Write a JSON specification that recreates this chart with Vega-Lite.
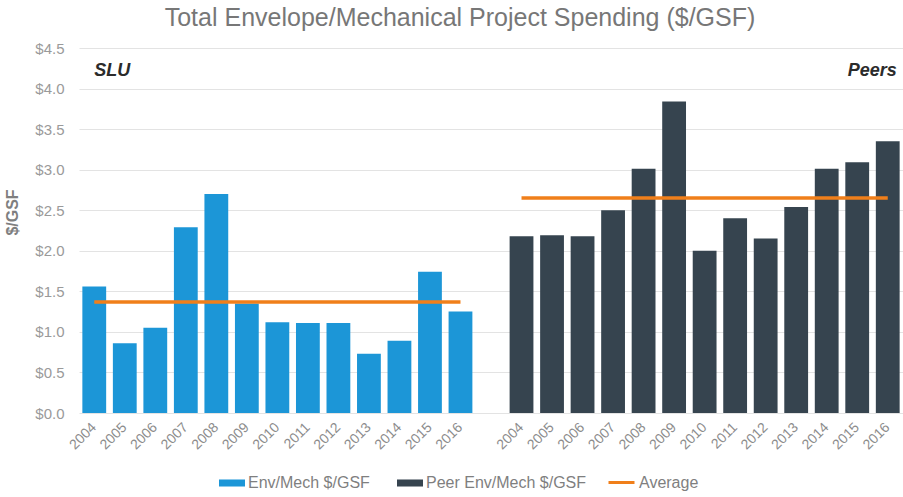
{
  "$schema": "https://vega.github.io/schema/vega-lite/v6.json",
  "width": 824,
  "height": 365,
  "autosize": {"type": "none"},
  "padding": {"left": 79, "top": 48, "right": 0, "bottom": 84},
  "background": "white",
  "config": {"view": {"stroke": null}, "font": "Liberation Sans"},
  "title": {
    "text": "Total Envelope/Mechanical Project Spending ($/GSF)",
    "fontSize": 25,
    "font": "Liberation Sans",
    "fontWeight": "normal",
    "color": "#777777",
    "anchor": "middle",
    "dx": -31,
    "offset": 10
  },
  "datasets": {
    "bars": [
      {"key": "SLU 2004", "series": "Env/Mech $/GSF", "value": 1.56},
      {"key": "SLU 2005", "series": "Env/Mech $/GSF", "value": 0.86},
      {"key": "SLU 2006", "series": "Env/Mech $/GSF", "value": 1.05},
      {"key": "SLU 2007", "series": "Env/Mech $/GSF", "value": 2.29},
      {"key": "SLU 2008", "series": "Env/Mech $/GSF", "value": 2.70},
      {"key": "SLU 2009", "series": "Env/Mech $/GSF", "value": 1.35},
      {"key": "SLU 2010", "series": "Env/Mech $/GSF", "value": 1.12},
      {"key": "SLU 2011", "series": "Env/Mech $/GSF", "value": 1.11},
      {"key": "SLU 2012", "series": "Env/Mech $/GSF", "value": 1.11},
      {"key": "SLU 2013", "series": "Env/Mech $/GSF", "value": 0.73},
      {"key": "SLU 2014", "series": "Env/Mech $/GSF", "value": 0.89},
      {"key": "SLU 2015", "series": "Env/Mech $/GSF", "value": 1.74},
      {"key": "SLU 2016", "series": "Env/Mech $/GSF", "value": 1.25},
      {"key": "Peers 2004", "series": "Peer Env/Mech $/GSF", "value": 2.18},
      {"key": "Peers 2005", "series": "Peer Env/Mech $/GSF", "value": 2.19},
      {"key": "Peers 2006", "series": "Peer Env/Mech $/GSF", "value": 2.18},
      {"key": "Peers 2007", "series": "Peer Env/Mech $/GSF", "value": 2.50},
      {"key": "Peers 2008", "series": "Peer Env/Mech $/GSF", "value": 3.01},
      {"key": "Peers 2009", "series": "Peer Env/Mech $/GSF", "value": 3.84},
      {"key": "Peers 2010", "series": "Peer Env/Mech $/GSF", "value": 2.00},
      {"key": "Peers 2011", "series": "Peer Env/Mech $/GSF", "value": 2.40},
      {"key": "Peers 2012", "series": "Peer Env/Mech $/GSF", "value": 2.15},
      {"key": "Peers 2013", "series": "Peer Env/Mech $/GSF", "value": 2.54},
      {"key": "Peers 2014", "series": "Peer Env/Mech $/GSF", "value": 3.01},
      {"key": "Peers 2015", "series": "Peer Env/Mech $/GSF", "value": 3.09},
      {"key": "Peers 2016", "series": "Peer Env/Mech $/GSF", "value": 3.35}
    ],
    "avg": [
      {"key": "SLU 2004", "group": "SLU", "series": "Average", "value": 1.37},
      {"key": "SLU 2016", "group": "SLU", "series": "Average", "value": 1.37},
      {"key": "Peers 2004", "group": "Peers", "series": "Average", "value": 2.65},
      {"key": "Peers 2016", "group": "Peers", "series": "Average", "value": 2.65}
    ],
    "labels": [
      {"key": "SLU 2004", "label": "SLU", "side": "left", "value": 4.22},
      {"key": "Peers 2016", "label": "Peers", "side": "right", "value": 4.22}
    ]
  },
  "encoding": {
    "x": {
      "field": "key",
      "type": "nominal",
      "sort": null,
      "scale": {
        "domain": ["SLU 2004","SLU 2005","SLU 2006","SLU 2007","SLU 2008","SLU 2009","SLU 2010","SLU 2011","SLU 2012","SLU 2013","SLU 2014","SLU 2015","SLU 2016","gap","Peers 2004","Peers 2005","Peers 2006","Peers 2007","Peers 2008","Peers 2009","Peers 2010","Peers 2011","Peers 2012","Peers 2013","Peers 2014","Peers 2015","Peers 2016"],
        "paddingInner": 0.22,
        "paddingOuter": 0.11
      },
      "axis": {
        "title": null,
        "labelExpr": "datum.value == 'gap' ? '' : slice(datum.value, -4)",
        "labelAngle": -45,
        "labelAlign": "right",
        "labelBaseline": "middle",
        "labelPadding": 12,
        "labelFontSize": 14,
        "labelColor": "#8c8c8c",
        "labelFont": "Liberation Sans",
        "domain": false,
        "ticks": false,
        "grid": false
      }
    },
    "y": {
      "field": "value",
      "type": "quantitative",
      "scale": {"domain": [0, 4.5], "nice": false},
      "axis": {
        "title": "$/GSF",
        "titleFontSize": 16,
        "titleColor": "#7f7f7f",
        "titleFontWeight": "bold",
        "titleFont": "Liberation Sans",
        "titleX": -67,
        "titleY": 164,
        "titleAngle": -90,
        "titleAlign": "center",
        "titleBaseline": "middle",
        "values": [0, 0.5, 1, 1.5, 2, 2.5, 3, 3.5, 4, 4.5],
        "format": "$.1f",
        "labelFontSize": 15,
        "labelColor": "#9a9a9a",
        "labelFont": "Liberation Sans",
        "labelPadding": 15,
        "domain": false,
        "ticks": false,
        "grid": true,
        "gridColor": "#e3e3e3",
        "gridWidth": 1
      }
    }
  },
  "layer": [
    {
      "data": {"name": "bars"},
      "mark": {"type": "bar"},
      "encoding": {
        "color": {
          "field": "series",
          "type": "nominal",
          "scale": {"domain": ["Env/Mech $/GSF", "Peer Env/Mech $/GSF"], "range": ["#1C96D7", "#36444F"]},
          "legend": {
            "orient": "none",
            "legendX": 140,
            "legendY": 422,
            "direction": "horizontal",
            "title": null,
            "symbolType": "M-1,-0.27H1V0.27H-1Z",
            "symbolSize": 676,
            "symbolStrokeWidth": 0,
            "labelFontSize": 16,
            "labelColor": "#7f7f7f",
            "labelFont": "Liberation Sans",
            "labelOffset": 3,
            "labelLimit": 300,
            "columnPadding": 27
          }
        }
      }
    },
    {
      "data": {"name": "avg"},
      "mark": {"type": "line", "strokeWidth": 3.5},
      "encoding": {
        "detail": {"field": "group"},
        "stroke": {
          "field": "series",
          "type": "nominal",
          "scale": {"domain": ["Average"], "range": ["#F07F1A"]},
          "legend": {
            "orient": "none",
            "legendX": 528,
            "legendY": 420,
            "direction": "horizontal",
            "title": null,
            "symbolType": "stroke",
            "symbolSize": 676,
            "symbolStrokeWidth": 3,
            "labelFontSize": 16,
            "labelColor": "#7f7f7f",
            "labelFont": "Liberation Sans",
            "labelOffset": 3,
            "labelLimit": 300
          }
        }
      }
    },
    {
      "data": {"name": "labels"},
      "transform": [{"filter": "datum.side == 'left'"}],
      "mark": {"type": "text", "align": "left", "baseline": "middle", "dx": 0, "fontSize": 18, "fontStyle": "italic", "fontWeight": "bold", "color": "#2b2b2b", "font": "Liberation Sans"},
      "encoding": {"text": {"field": "label"}}
    },
    {
      "data": {"name": "labels"},
      "transform": [{"filter": "datum.side == 'right'"}],
      "mark": {"type": "text", "align": "right", "baseline": "middle", "dx": 9, "fontSize": 18, "fontStyle": "italic", "fontWeight": "bold", "color": "#2b2b2b", "font": "Liberation Sans"},
      "encoding": {"text": {"field": "label"}}
    }
  ]
}
